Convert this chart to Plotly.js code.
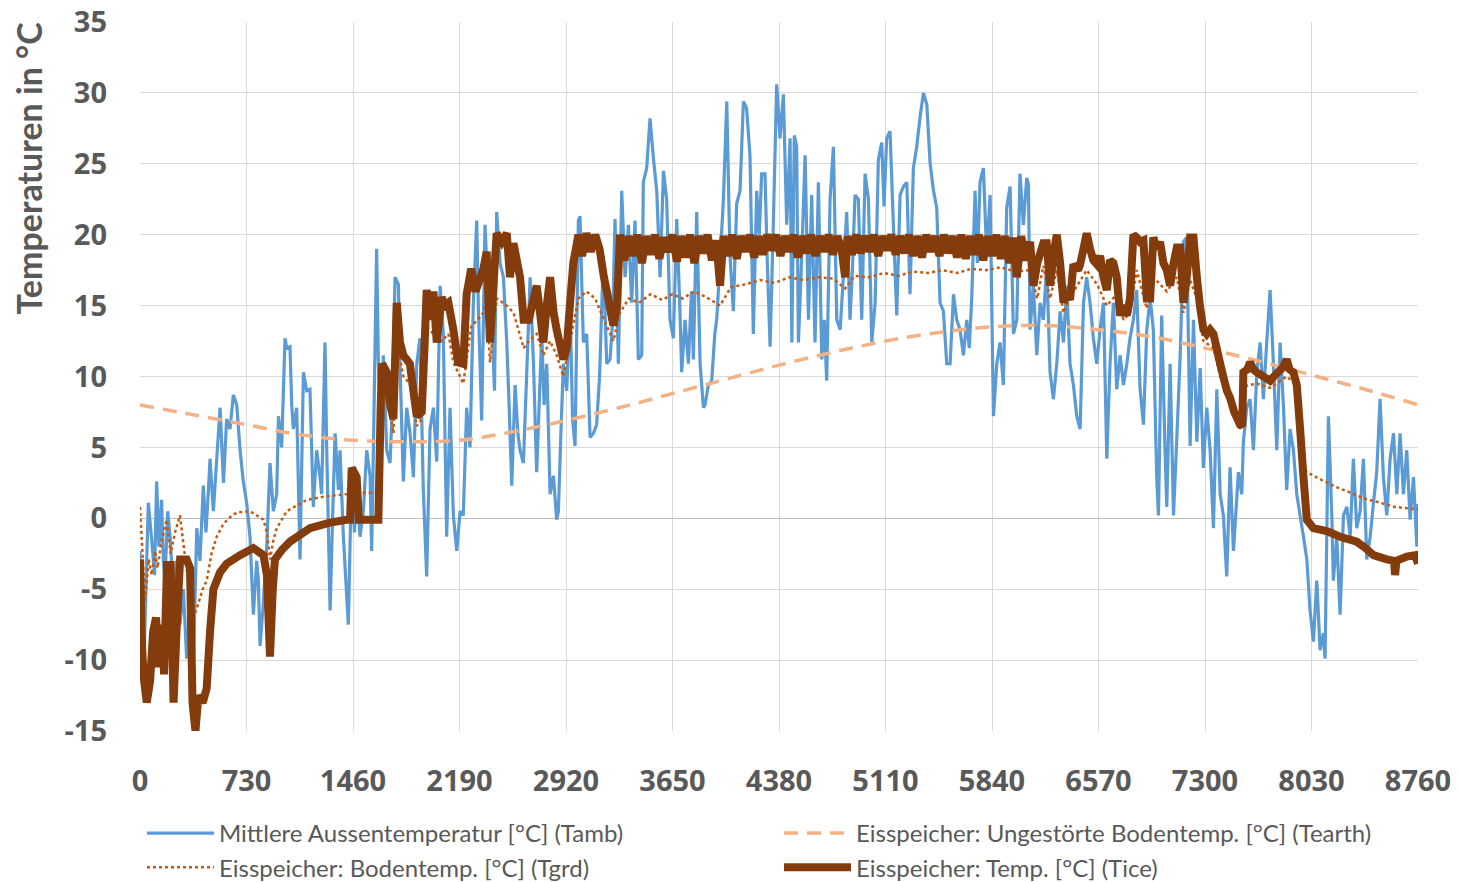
<!DOCTYPE html>
<html>
<head>
<meta charset="utf-8">
<script src="https://cdn.plot.ly/plotly-3.0.1.min.js"></script>
<style>html,body{margin:0;padding:0;background:#fff;}#chart{width:1461px;height:882px;}</style>
</head>
<body>
<div id="chart"></div>
<script>
// ---- Data ----
const seriesNames = [
  "Mittlere Aussentemperatur [°C] (Tamb)",
  "Eisspeicher: Ungestörte Bodentemp. [°C] (Tearth)",
  "Eisspeicher: Bodentemp. [°C] (Tgrd)",
  "Eisspeicher: Temp. [°C] (Tice)"
];
const yTitle = "Temperaturen in °C";

const xTickVals = [0,730,1460,2190,2920,3650,4380,5110,5840,6570,7300,8030,8760];
const xTickLabels = ["0","730","1460","2190","2920","3650","4380","5110","5840","6570","7300","8030","8760"];
const yTickVals = [-15,-10,-5,0,5,10,15,20,25,30,35];
const yTickLabels = ["-15","-10","-5","0","5","10","15","20","25","30","35"];

const tambHours = [0,12,30,57,80,100,114,130,148,160,171,190,206,230,251,274,297,320,343,366,389,411,434,452,468,480,503,526,549,572,594,617,640,663,686,708,731,754,777,800,811,823,846,869,891,914,937,949,971,994,1006,1028,1040,1051,1074,1097,1120,1143,1165,1188,1211,1234,1245,1268,1280,1303,1320,1337,1360,1371,1394,1428,1451,1470,1485,
1508,1531,1554,1577,1588,1600,1622,1634,1650,1668,1691,1714,1730,1748,1771,1782,1805,1828,1851,1874,1897,1919,1942,1965,1988,2011,2034,2057,2079,2102,2125,2148,2171,2194,2216,2239,2262,2285,2308,2319,2342,2365,2388,2411,2430,2445,2468,2491,2514,2530,2548,2571,2590,2605,2628,2650,2674,2697,2719,2736,2754,2770,2788,2811,2834,2856,2868,2885,2902,2925,2948,2965,2982,3005,
3016,3039,3062,3085,3108,3130,3150,3176,3199,3222,3240,3256,3279,3302,3325,3348,3370,3393,3416,3439,3450,3473,3496,3519,3542,3565,3588,3610,3633,3656,3679,3700,3713,3736,3759,3780,3793,3816,3839,3862,3873,3896,3919,3940,3953,3975,3999,4022,4044,4067,4090,4113,4136,4158,4181,4204,4227,4245,4261,4284,4300,4319,4341,4364,4387,4410,4433,4456,4468,4485,
4501,4513,4536,4559,4582,4604,4627,4650,4673,4690,4707,4730,4753,4776,4799,4821,4844,4867,4885,4901,4924,4947,4970,4993,5016,5039,5061,5084,5100,5118,5141,5164,5187,5210,5233,5256,5278,5301,5324,5347,5370,5393,5416,5439,5461,5484,5507,5530,5553,5576,5598,5621,5644,5667,5684,5701,5724,5740,5758,5781,5804,5827,5850,5873,5895,5918,5941,5964,5987,
6010,6032,6055,6078,6090,6101,6124,6147,6170,6192,6215,6238,6261,6284,6307,6330,6352,6375,6398,6421,6444,6467,6489,6512,6535,6558,6581,6604,6627,6649,6672,6695,6718,6741,6764,6786,6809,6832,6855,6878,6901,6924,6946,6969,6981,7003,7026,7038,7061,7084,7107,7130,7152,7175,7198,7221,7244,7267,7289,7312,7335,7358,7381,7404,7426,7449,
7472,7495,7529,7552,7563,7586,7609,7632,7655,7678,7700,7723,7746,7769,7792,7815,7838,7860,7883,7906,7929,7952,7975,7998,8020,8043,8066,8089,8112,8123,8146,8169,8180,8203,8226,8249,8272,8295,8317,8340,8363,8386,8409,8432,8455,8477,8500,8523,8546,8569,8592,8615,8637,8660,8683,8706,8729,8752,8760];
const tambValues = [-2.3,-7.0,-9.0,1.1,-1.5,-4.0,2.6,-2.0,1.3,-3.0,-4.4,0.5,-1.3,-5.5,-3.0,-7.5,-5.0,-9.9,-6.0,-10.3,-0.7,-3.0,2.3,-1.0,1.8,4.2,0.5,4.2,7.8,2.5,7.0,6.3,8.7,8.0,4.8,2.6,1.1,-1.3,-6.8,-3.0,-4.4,-9.0,-5.9,-2.0,3.9,0.5,1.7,7.2,5.0,12.7,12.0,12.1,8.0,6.3,7.8,-2.9,10.3,9.0,9.1,0.8,4.8,2.9,1.7,12.4,4.8,-6.5,0.0,6.0,2.0,4.8,-1.3,-7.5,3.55,-1.0,2.9,
-1.3,0.5,4.8,3.0,-2.3,5.0,19.0,10.9,5.0,11.5,4.8,3.9,8.0,17.0,16.5,10.9,2.6,7.8,6.0,2.9,10.9,12.7,2.0,-4.1,6.3,7.8,4.0,16.4,13.0,-1.3,7.8,0.2,-2.3,0.5,0.2,7.8,5.0,15.2,21.0,15.0,6.9,20.7,15.2,14.0,9.0,21.6,18.0,17.0,12.4,8.0,2.3,9.4,6.0,4.8,3.9,10.0,17.0,10.9,3.25,8.0,13.0,8.0,10.9,1.7,3.0,-0.1,0.5,6.0,10.9,9.0,15.2,7.0,5.1,21.0,
21.3,12.4,13.0,5.7,6.0,6.6,10.0,18.5,10.9,11.2,14.0,21.1,10.9,23.1,17.0,20.7,15.2,21.0,11.2,11.5,23.7,24.7,28.2,25.4,23.1,17.0,24.5,22.5,14.0,12.7,21.1,15.0,10.3,14.0,10.9,16.0,11.2,21.6,10.9,7.8,8.0,9.4,9.7,13.0,14.0,18.0,22.5,29.4,18.5,14.6,22.2,23.1,29.4,28.9,25.6,13.0,23.1,20.0,24.3,24.3,18.0,12.1,20.7,30.6,26.8,29.9,20.7,26.8,12.4,27.0,
26.2,12.4,18.5,25.6,14.0,22.8,12.4,23.7,11.2,14.0,9.7,22.5,26.2,14.0,13.3,17.0,21.6,14.0,18.0,22.8,22.5,14.0,24.3,22.5,12.4,15.2,25.3,26.5,22.0,26.8,27.3,20.7,14.3,22.8,23.4,23.7,15.8,24.7,26.2,28.3,30.0,29.2,25.0,23.1,21.9,15.2,14.6,10.9,10.9,15.8,14.0,13.3,11.5,14.0,12.0,15.5,23.1,18.0,23.7,24.7,18.5,22.8,7.2,10.9,12.4,9.4,21.9,23.4,13.0,
14.0,24.3,20.7,24.0,23.5,13.3,16.4,11.5,15.2,14.0,17.9,10.3,8.4,10.9,14.6,12.4,16.4,10.9,9.4,7.2,6.3,15.2,17.0,15.2,12.7,10.9,13.3,15.2,4.2,10.9,15.2,9.1,11.5,9.4,10.9,12.7,14.0,16.1,9.1,6.6,13.3,15.5,13.3,2.9,0.2,14.3,4.8,0.8,10.9,0.2,5.7,11.5,19.5,19.8,5.1,14.0,5.4,10.6,3.55,7.8,4.8,-0.7,9.1,1.7,0.2,-4.1,
3.6,-2.3,3.25,1.7,5.4,7.8,8.4,4.8,10.3,12.4,8.4,12.4,16.1,10.9,4.8,12.4,7.8,2.0,6.3,4.8,1.7,0.2,-1.3,-2.9,-6.5,-8.7,-4.4,-9.3,-8.1,-9.9,7.2,0.2,-4.4,-1.3,-6.8,0.2,0.8,-1.3,4.2,-0.7,0.5,4.2,-2.9,-1.3,1.1,3.25,8.4,2.9,0.2,4.2,6.0,1.7,6.0,1.7,4.8,-0.1,2.9,-2.0,1.0];

const tearthHours = [0,365,730,1095,1460,1825,2190,2555,2920,3285,3650,4015,4380,4745,5110,5475,5840,6205,6570,6935,7300,7665,8030,8395,8760];
const tearthValues = [8.0,7.3,6.6,5.9,5.5,5.4,5.5,6.1,6.9,7.8,8.8,9.8,10.8,11.7,12.5,13.1,13.5,13.6,13.3,12.8,12.0,11.1,10.1,9.1,8.0];

const tgrdHours = [0,20,34,60,80,103,120,150,183,210,240,274,300,330,366,400,430,457,490,526,571,620,663,754,846,870,891,915,937,1006,1143,1303,1417,1450,1462,1480,1500,1634,1655,1691,1737,1760,1805,1850,1897,1931,1965,2011,2068,2114,2148,2216,2270,2354,2376,2399,2445,2514,2560,2630,2665,2719,2765,2811,2856,2902,2948,3005,3060,3120,3180,3245,3290,3350,3420,3500,3580,3650,3720,3800,3880,3976,4050,4150,4250,4350,4450,4550,4650,4750,4833,4900,5000,5100,5200,5300,5400,5500,5600,5700,5800,5900,6000,6101,6150,6192,6238,6284,6330,6400,6489,6560,6627,6695,6741,6786,6832,6901,6946,7038,7107,7152,7198,7244,7289,7358,7404,7472,7540,7563,7655,7746,7860,7906,7929,7952,7975,8000,8100,8200,8300,8386,8500,8600,8700,8760];
const tgrdValues = [0.8,-3.0,-5.9,-2.9,-4.0,-2.3,-3.5,-1.5,-0.1,-2.5,-1.0,0.2,-2.0,-4.5,-7.0,-6.0,-5.0,-4.4,-2.5,-1.3,-0.4,0.1,0.4,0.5,-0.1,-1.0,-2.9,-1.5,-0.7,0.5,1.3,1.6,1.7,3.0,3.6,2.5,1.8,1.8,8.0,9.0,6.0,12.5,10.0,9.5,6.5,7.0,13.5,13.0,12.5,13.0,11.0,9.5,13.5,14.5,15.5,11.0,15.5,15.0,14.5,12.0,12.5,13.0,11.5,12.5,11.5,10.0,12.5,15.5,16.0,15.5,14.0,12.5,14.5,15.5,15.2,15.8,15.4,15.8,15.5,16.0,15.6,15.0,16.3,16.5,16.8,16.6,17.0,16.8,17.0,16.9,16.2,17.1,17.0,17.3,17.1,17.4,17.3,17.5,17.3,17.6,17.5,17.7,17.4,17.5,15.5,17.8,15.5,17.5,14.5,16.0,17.5,16.5,15.0,15.8,14.0,14.5,17.5,14.8,17.0,16.0,17.0,14.5,16.8,15.5,12.5,12.0,10.0,8.0,6.3,9.3,9.5,9.2,10.0,9.6,8.5,5.0,3.5,3.25,2.7,2.2,1.8,1.4,1.1,0.8,0.7,0.65];

const ticeHours = [0,10,23,46,69,90,110,130,150,165,185,210,230,250,275,320,343,360,380,400,430,457,480,503,549,594,686,777,846,870,891,910,925,975,1028,1165,1302,1417,1440,1451,1470,1485,1500,1634,1650,1660,1691,1715,1737,1760,1782,1805,1850,1874,1897,1931,1950,1965,1988,2011,2034,2068,2090,2114,2148,2180,2216,2239,2270,2300,2354,2376,2399,2420,2445,2480,2514,2536,2560,2605,2630,2665,2719,2742,2765,2788,2811,2835,2856,2902,2925,2948,2970,3005,
3030,3060,3090,3120,3150,3180,3200,3245,3270,3290,3320,3350,3380,3410,3440,3470,3500,3530,3560,3590,3620,3650,3680,3710,3740,3770,3800,3830,3860,3890,3920,3950,3976,4000,4030,4060,4090,4120,4150,4180,4210,4240,4270,4300,4330,4360,4390,4420,4450,4480,4510,4540,4570,4600,4630,4660,4690,4720,4750,4780,4810,4833,4850,4880,4910,4940,4970,5000,5030,5060,5090,5120,5150,5180,5210,5240,5270,5300,5330,5360,5390,5420,5450,5480,5510,5540,5570,5600,5630,5660,5690,5720,5750,5780,5810,5840,5870,5900,5930,5960,5985,6010,6040,6070,
6101,6124,6150,6192,6215,6238,6260,6284,6307,6330,6352,6375,6398,6430,6444,6467,6489,6512,6535,6560,6581,6604,6627,6649,6672,6695,6718,6741,6764,6786,6809,6832,6855,6878,6901,6924,6946,6970,6992,7015,7038,7061,7085,7107,7130,7152,7175,7198,7221,7244,7265,7289,7312,7335,7358,7380,7404,7430,7450,7472,7500,7540,7555,7563,7590,7609,7632,7655,7700,7746,7790,7830,7860,7880,7906,7929,7952,7975,7998,8043,8135,8226,8340,8400,8455,8546,8595,8603,8612,8683,8740,8760];
const ticeValues = [-2.9,-8.0,-11.0,-13.0,-11.5,-8.0,-7.0,-10.5,-7.5,-11.0,-3.3,-3.3,-13.0,-8.0,-2.9,-2.9,-3.5,-13.0,-15.0,-12.5,-13.0,-12.0,-8.0,-5.0,-3.8,-3.2,-2.6,-2.1,-2.6,-4.0,-9.75,-5.0,-2.9,-2.2,-1.65,-0.7,-0.3,-0.1,-0.1,3.55,3.2,2.9,-0.1,-0.1,8.0,10.9,10.3,8.0,7.0,15.2,12.4,11.5,10.9,9.0,7.2,7.5,12.0,16.1,14.0,16.0,12.4,15.6,15.0,15.2,13.3,11.0,10.9,15.8,17.6,16.0,17.6,18.8,12.4,16.0,20.1,19.5,20.1,17.0,19.4,17.0,14.0,14.0,16.4,14.5,12.4,15.0,17.0,14.5,13.3,11.2,12.0,15.2,18.0,20.0,
18.5,20.1,18.8,20.0,19.0,17.0,16.0,13.6,15.0,20.0,18.2,19.9,18.5,20.0,18.0,19.9,18.6,20.0,18.3,19.8,18.8,20.0,18.1,19.9,18.4,20.0,18.0,19.9,18.7,20.0,18.2,19.6,16.4,19.9,18.5,20.0,18.3,19.9,18.8,20.0,18.4,19.9,18.6,20.0,18.9,20.0,18.5,19.9,18.8,20.0,18.4,19.9,18.7,20.0,18.5,19.9,18.8,20.0,18.6,19.9,18.9,17.0,19.9,18.6,20.0,18.7,19.9,18.8,20.0,18.5,19.9,18.9,20.0,18.6,19.9,18.7,20.0,18.5,19.9,18.4,20.0,18.8,19.9,18.5,20.0,18.7,19.9,18.4,20.0,18.3,19.9,18.6,20.0,18.2,19.9,18.5,20.0,18.3,19.9,18.0,19.8,17.0,19.9,18.2,
19.5,16.4,18.0,19.4,19.4,16.4,18.5,20.0,18.0,15.2,16.0,15.4,17.9,17.5,17.9,19.0,20.1,19.0,18.2,17.9,18.5,17.0,16.1,18.2,18.0,17.0,14.3,15.0,14.3,15.5,20.0,19.8,19.5,19.6,15.5,15.5,19.8,19.0,19.5,18.0,17.5,16.4,18.0,19.1,19.1,15.2,17.0,19.8,19.8,17.0,15.0,13.3,13.0,13.3,13.0,12.0,10.9,9.8,9.0,8.5,7.5,6.6,6.5,10.3,10.5,11.0,10.5,10.3,10.0,9.7,10.2,10.6,11.2,10.5,10.3,9.4,6.3,2.9,-0.1,-0.7,-0.9,-1.3,-1.65,-2.1,-2.6,-2.9,-3.0,-4.0,-3.0,-2.7,-2.6,-3.2];

// ---- Chart ----
const gray = '#595959';
const traces = [
  {x: tambHours, y: tambValues, name: seriesNames[0], type: 'scatter', mode: 'lines',
   line: {color: '#5B9BD5', width: 3.2, simplify: false}},
  {x: tearthHours, y: tearthValues, name: seriesNames[1], type: 'scatter', mode: 'lines',
   line: {color: '#F4B183', width: 3.5, dash: '14px,9px', shape: 'spline', simplify: false}},
  {x: tgrdHours, y: tgrdValues, name: seriesNames[2], type: 'scatter', mode: 'lines',
   line: {color: '#C55A11', width: 2.5, dash: 'dot', simplify: false}},
  {x: ticeHours, y: ticeValues, name: seriesNames[3], type: 'scatter', mode: 'lines',
   line: {color: '#843C0C', width: 8, simplify: false}}
];

const layout = {
  width: 1461, height: 882,
  margin: {l: 140, r: 43, t: 22, b: 151},
  paper_bgcolor: '#ffffff', plot_bgcolor: '#ffffff',
  showlegend: true,
  xaxis: {
    range: [0, 8760], tickmode: 'array', tickvals: xTickVals, ticktext: xTickLabels,
    showgrid: true, gridcolor: '#d9d9d9', gridwidth: 1, zeroline: false, showline: false,
    ticks: '', ticklabelstandoff: 30, automargin: false,
    tickfont: {family: '"Open Sans", sans-serif', size: 29, color: gray, weight: 700}
  },
  yaxis: {
    range: [-15, 35], tickmode: 'array', tickvals: yTickVals, ticktext: yTickLabels,
    showgrid: true, gridcolor: '#d9d9d9', gridwidth: 1,
    zeroline: true, zerolinecolor: '#bfbfbf', zerolinewidth: 1.3, showline: false,
    ticks: '', ticklabelstandoff: 32, automargin: false,
    tickfont: {family: '"Open Sans", sans-serif', size: 29, color: gray, weight: 700}
  },
  annotations: [{
    text: yTitle, textangle: -90, showarrow: false,
    xref: 'paper', yref: 'paper', x: -0.087, y: 1.004, xanchor: 'center', yanchor: 'top',
    font: {family: 'Lato, sans-serif', size: 34, color: gray, weight: 700}
  }],
  legend: {
    orientation: 'h', xref: 'container', yref: 'container',
    x: 0.0972, xanchor: 'left', y: 0.0805, yanchor: 'top',
    entrywidth: 555, entrywidthmode: 'pixels', itemwidth: 67,
    font: {family: 'Lato, sans-serif', size: 24, color: gray},
    bgcolor: 'rgba(0,0,0,0)', traceorder: 'normal'
  }
};

Plotly.newPlot('chart', traces, layout, {displayModeBar: false, staticPlot: true});
</script>
</body>
</html>
